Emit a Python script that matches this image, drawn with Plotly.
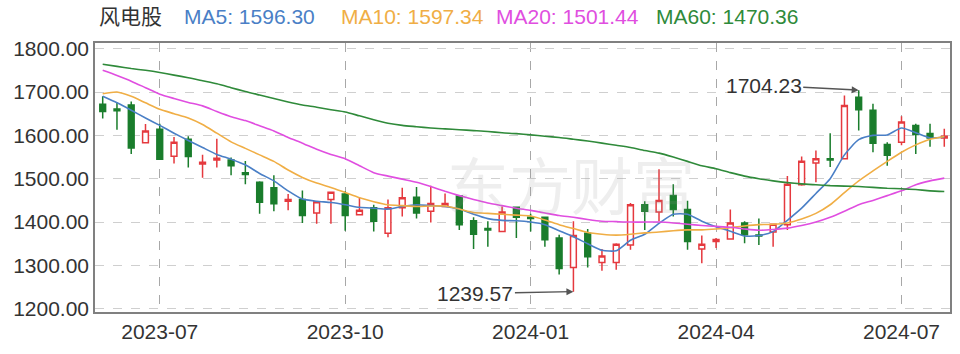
import plotly.graph_objects as go
import pandas as pd

title_name = "风电股"
dates = [d.strftime("%Y-%m-%d") for d in pd.date_range("2023-06-09", periods=60, freq="7D")]

opens = [1672, 1661, 1670, 1583, 1614, 1552, 1591, 1534, 1543, 1543,
         1514, 1492, 1479, 1448, 1452, 1421, 1452, 1465, 1417, 1433,
         1374, 1433, 1457, 1425, 1436, 1460, 1403, 1385, 1378, 1434,
         1411, 1411, 1363, 1295, 1374, 1307, 1307, 1347, 1440, 1423,
         1461, 1429, 1338, 1355, 1361, 1398, 1370, 1377, 1394, 1486,
         1536, 1546, 1546, 1688, 1658, 1579, 1584, 1623, 1604, 1594]
highs = [1690, 1676, 1678, 1626, 1627, 1596, 1598, 1555, 1592, 1549,
         1541, 1494, 1508, 1465, 1473, 1448, 1470, 1471, 1457, 1440,
         1452, 1479, 1481, 1484, 1466, 1460, 1411, 1402, 1436, 1436,
         1419, 1413, 1371, 1402, 1384, 1338, 1351, 1444, 1448, 1522,
         1487, 1449, 1369, 1363, 1429, 1402, 1408, 1396, 1506, 1551,
         1565, 1605, 1692, 1704.23, 1673, 1584, 1644, 1627, 1627, 1615]
lows = [1639, 1613, 1557, 1583, 1544, 1535, 1526, 1502, 1526, 1508,
        1487, 1419, 1425, 1427, 1398, 1396, 1396, 1380, 1415, 1378,
        1365, 1413, 1408, 1399, 1434, 1382, 1338, 1343, 1378, 1363,
        1378, 1343, 1279, 1239.57, 1295, 1288, 1290, 1336, 1382, 1402,
        1413, 1336, 1305, 1340, 1359, 1351, 1347, 1343, 1382, 1484,
        1492, 1527, 1546, 1611, 1561, 1530, 1577, 1557, 1574, 1574]
closes = [1655, 1657, 1571, 1610, 1545, 1584, 1551, 1538, 1547, 1530,
          1510, 1446, 1442, 1452, 1415, 1447, 1469, 1415, 1427, 1402,
          1433, 1456, 1421, 1443, 1443, 1394, 1372, 1382, 1423, 1411,
          1408, 1359, 1293, 1369, 1320, 1322, 1349, 1440, 1425, 1450,
          1429, 1355, 1349, 1360, 1398, 1371, 1368, 1395, 1487, 1540,
          1546, 1543, 1669, 1659, 1582, 1554, 1631, 1602, 1594, 1598]

ma5 = [1690, 1675, 1658, 1640, 1623, 1605, 1588, 1572, 1556, 1545,
       1532, 1512, 1495, 1472, 1453, 1448, 1445, 1440, 1434, 1432,
       1430, 1436, 1440, 1438, 1436, 1430, 1418, 1408, 1404, 1403,
       1400, 1394, 1380, 1366, 1350, 1335, 1334, 1358, 1372, 1397,
       1418, 1418, 1402, 1389, 1379, 1368, 1369, 1378, 1404, 1432,
       1466, 1500, 1555, 1590, 1600, 1601, 1617, 1606, 1594, 1596.30]
ma10 = [1696, 1700, 1690, 1675, 1660, 1650, 1640, 1625, 1605, 1585,
        1570, 1555, 1540, 1520, 1503, 1490, 1480, 1468, 1456, 1447,
        1440, 1438, 1436, 1437, 1437, 1430, 1422, 1420, 1418, 1416,
        1414, 1405, 1394, 1385, 1376, 1372, 1370, 1372, 1375, 1377,
        1380, 1382, 1382, 1384, 1387, 1391, 1394, 1395, 1398, 1407,
        1420, 1440, 1468, 1495, 1518, 1540, 1561, 1578, 1591, 1597.34]
ma20 = [1750, 1738, 1725, 1710, 1695, 1685, 1676, 1668, 1655, 1643,
        1634, 1622, 1610, 1595, 1582, 1568, 1556, 1546, 1530, 1514,
        1506, 1499, 1492, 1482, 1471, 1461, 1452, 1444, 1438, 1432,
        1427, 1421, 1415, 1411, 1406, 1402, 1401, 1400, 1400, 1400,
        1398, 1395, 1392, 1390, 1388, 1384, 1381, 1383, 1386, 1392,
        1400, 1411, 1425, 1440, 1450, 1461, 1472, 1486, 1495, 1501.44]
ma60 = [1764, 1759, 1754, 1750, 1745, 1739, 1733, 1726, 1719, 1710,
        1701, 1693, 1685, 1677, 1670, 1665, 1659, 1654, 1645, 1636,
        1628, 1623, 1620, 1617, 1615, 1613, 1611, 1609, 1606, 1604,
        1601, 1598, 1595, 1591, 1587, 1582, 1577, 1572, 1565, 1559,
        1550, 1540, 1530, 1523, 1514, 1506, 1500, 1495, 1491, 1488,
        1486, 1484, 1483, 1482, 1480, 1478, 1477, 1475, 1472, 1470.36]

ma_names = ["MA5", "MA10", "MA20", "MA60"]
ma_series = [ma5, ma10, ma20, ma60]
ma_colors = ["#4a7fc6", "#f0ae45", "#e04ee0", "#2f8a3a"]

tick_idx = [4, 17, 30, 43, 56]
tick_labels = ["2023-07", "2023-10", "2024-01", "2024-04", "2024-07"]

peak_idx, trough_idx = 53, 33

FONT = "Arial, Liberation Sans, Noto Sans CJK SC, sans-serif"
RED = "#e5393e"
GREEN = "#1a7d2c"

fig = go.Figure()
fig.add_trace(go.Candlestick(
    x=dates, open=opens, high=highs, low=lows, close=closes,
    increasing=dict(line=dict(color=RED, width=1.5), fillcolor="white"),
    decreasing=dict(line=dict(color=GREEN, width=1.5), fillcolor=GREEN),
    whiskerwidth=0, showlegend=False, hoverinfo="skip"))

for name, s, c in zip(ma_names, ma_series, ma_colors):
    fig.add_trace(go.Scatter(x=dates, y=s, mode="lines", name=name,
                             line=dict(color=c, width=1.6, shape="spline", smoothing=0.6),
                             showlegend=False, hoverinfo="skip"))

L, R, T, B = 95, 8, 43, 42
W, H = 960, 354
pw = W - L - R
ph = H - T - B

def px_x(px):
    return (px - L) / pw

def px_y(py):
    return 1 - (py - T) / ph

annotations = []
# header line
header = [(title_name, "#333333", 97),
          (f"{ma_names[0]}: {ma5[-1]:.2f}", ma_colors[0], 182),
          (f"{ma_names[1]}: {ma10[-1]:.2f}", ma_colors[1], 340),
          (f"{ma_names[2]}: {ma20[-1]:.2f}", ma_colors[2], 495),
          (f"{ma_names[3]}: {ma60[-1]:.2f}", ma_colors[3], 655)]
for txt, col, xp in header:
    annotations.append(dict(text=txt, xref="paper", yref="paper", x=px_x(xp), y=px_y(17),
                            xanchor="left", yanchor="middle", showarrow=False,
                            font=dict(family=FONT, size=21, color=col)))

# watermark
annotations.append(dict(text="东方财富", xref="paper", yref="paper", x=px_x(572), y=px_y(183),
                        xanchor="center", yanchor="middle", showarrow=False,
                        font=dict(family="Noto Sans CJK SC", size=62, color="rgba(150,150,150,0.16)")))

# peak / trough labels
annotations.append(dict(x=dates[peak_idx], y=highs[peak_idx], xref="x", yref="y",
                        text=f"{highs[peak_idx]:.2f}", showarrow=True, arrowhead=2, arrowsize=1,
                        arrowwidth=1.4, arrowcolor="#555555", ax=-95, ay=-5,
                        font=dict(family=FONT, size=21, color="#333333")))
annotations.append(dict(x=dates[trough_idx], y=lows[trough_idx], xref="x", yref="y",
                        text=f"{lows[trough_idx]:.2f}", showarrow=True, arrowhead=2, arrowsize=1,
                        arrowwidth=1.4, arrowcolor="#555555", ax=-98, ay=2,
                        font=dict(family=FONT, size=21, color="#333333")))

fig.update_layout(
    width=W, height=H, margin=dict(l=L, r=R, t=T, b=B),
    paper_bgcolor="white", plot_bgcolor="white",
    boxgap=0.42,
    font=dict(family=FONT, size=21, color="#333333"),
    annotations=annotations,
    xaxis=dict(type="category", rangeslider=dict(visible=False),
               range=[-0.54, 59.4], tickmode="array",
               tickvals=[dates[i] for i in tick_idx], ticktext=tick_labels,
               showgrid=True, gridcolor="#a8a8a8", griddash="dash", gridwidth=1,
               showline=True, linecolor="#808080", linewidth=1.5, mirror=True,
               ticks="", tickfont=dict(size=21, color="#333333"), zeroline=False),
    yaxis=dict(range=[1192.6, 1813], tickmode="array",
               tickvals=[1200, 1300, 1400, 1500, 1600, 1700, 1800], tickformat=".2f",
               showgrid=True, gridcolor="#cfcfcf", griddash="dash", gridwidth=1,
               showline=True, linecolor="#808080", linewidth=1.5, mirror=True,
               ticks="", ticklen=0, tickfont=dict(size=21, color="#333333"), zeroline=False),
)

fig.write_html("out.html")
